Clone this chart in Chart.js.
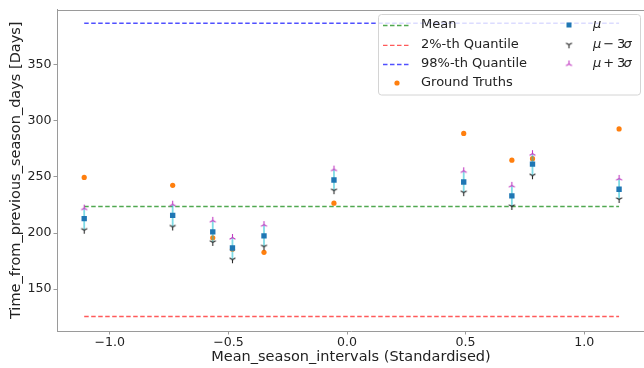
<!DOCTYPE html>
<html>
<head>
<meta charset="utf-8">
<script src="https://cdn.jsdelivr.net/npm/chart.js@4.4.1/dist/chart.umd.min.js"></script>
<style>
  html, body { margin: 0; padding: 0; overflow: hidden; background: #fff; width: 644px; height: 368px; }
  canvas { display: block; }
</style>
</head>
<body>
<canvas id="c" width="650" height="368"></canvas>
<script>
// Standardised mean season interval of each site (x) and the model outputs (days)
const xValues   = [-1.108, -0.735, -0.566, -0.483, -0.350, -0.055, 0.492, 0.695, 0.782, 1.147];
const muValues  = [212.8, 215.7, 201.0, 186.6, 197.4, 247.3, 245.5, 233.1, 261.4, 239.0];
const muMinus3s = [202.5, 205.4, 191.6, 176.2, 187.7, 237.8, 236.0, 223.7, 251.1, 229.9];
const muPlus3s  = [222.2, 225.7, 211.3, 196.0, 207.5, 257.0, 255.5, 242.5, 270.8, 248.7];
const groundTruths = [249.6, 242.5, 195.7, 185.5, 182.8, 226.6, 288.8, 265.0, 266.3, 292.8];

// Reference levels of the training targets
const meanLevel = 223.7;
const q02Level  = 125.5;
const q98Level  = 387.0;

const xTicks = [-1.0, -0.5, 0.0, 0.5, 1.0];
const yTicks = [150, 200, 250, 300, 350];

const FONT = 'DejaVu Sans';
const TEXT = '#222222';
const SPINE = '#9a9a9a';

// Three-armed markers: pointing down (Y) and pointing up
function triMarker(color, pointingUp) {
  const s = 9, c = s / 2, r = 3.4;
  const cv = document.createElement('canvas');
  cv.width = s; cv.height = s;
  const g = cv.getContext('2d');
  g.strokeStyle = color; g.lineWidth = 1.1;
  const d = pointingUp ? -1 : 1;
  g.beginPath();
  g.moveTo(c, c); g.lineTo(c, c + d * r);
  g.moveTo(c, c); g.lineTo(c - 0.866 * r, c - d * 0.5 * r);
  g.moveTo(c, c); g.lineTo(c + 0.866 * r, c - d * 0.5 * r);
  g.stroke();
  return cv;
}
const triDown = triMarker('#2a2a2a', false);
const triUp = triMarker('#c23cc2', true);

const pts = ys => xValues.map((x, i) => ({ x, y: ys[i] }));
const xLo = Math.min(...xValues), xHi = Math.max(...xValues);
const hline = v => [{ x: xLo, y: v }, { x: xHi, y: v }];

const errData = [];
xValues.forEach((x, i) => {
  errData.push({ x, y: muMinus3s[i] }, { x, y: muPlus3s[i] }, { x, y: null });
});

const meanColor = 'rgb(80,168,80)';
const q02Color = 'rgb(255,90,90)';
const q98Color = 'rgb(80,80,255)';
const dash = [4.5, 2.5];

const datasets = [
  { label: 'Mean', data: hline(meanLevel), showLine: true, borderColor: meanColor, borderWidth: 1.4, borderDash: dash, pointRadius: 0, order: 20 },
  { label: '2%-th Quantile', data: hline(q02Level), showLine: true, borderColor: q02Color, borderWidth: 1.4, borderDash: dash, pointRadius: 0, order: 20 },
  { label: '98%-th Quantile', data: hline(q98Level), showLine: true, borderColor: q98Color, borderWidth: 1.5, borderDash: dash, pointRadius: 0, order: 20 },
  { label: 'Ground Truths', data: pts(groundTruths), pointStyle: 'circle', pointRadius: 2.6, backgroundColor: '#ff7f0e', borderWidth: 0, order: 15 },
  { label: 'range', data: errData, showLine: true, spanGaps: false, borderColor: 'rgba(23,190,207,0.55)', borderWidth: 1.8, pointRadius: 0, order: 12 },
  { label: 'mu-3s', data: pts(muMinus3s), pointStyle: triDown, order: 6 },
  { label: 'mu+3s', data: pts(muPlus3s), pointStyle: triUp, order: 5 },
  { label: 'mu', data: pts(muValues), pointStyle: 'rect', pointRadius: 3.8, backgroundColor: '#1f77b4', borderWidth: 0, order: 4 }
];

// Top spine of the axes box
const framePlugin = {
  id: 'frame',
  afterDatasetsDraw(chart) {
    const { ctx, chartArea: a } = chart;
    ctx.save();
    ctx.strokeStyle = SPINE; ctx.lineWidth = 1;
    ctx.beginPath();
    ctx.moveTo(a.left, Math.round(a.top) + 0.5);
    ctx.lineTo(a.right, Math.round(a.top) + 0.5);
    ctx.stroke();
    ctx.restore();
  }
};

// Two-column legend in the upper right corner
const legendPlugin = {
  id: 'boxLegend',
  afterDraw(chart) {
    const { ctx } = chart;
    const bx = 378.5, by = 14.5, bw = 262, bh = 80.5, r = 3;
    ctx.save();
    ctx.beginPath();
    ctx.moveTo(bx + r, by);
    ctx.lineTo(bx + bw - r, by); ctx.arcTo(bx + bw, by, bx + bw, by + r, r);
    ctx.lineTo(bx + bw, by + bh - r); ctx.arcTo(bx + bw, by + bh, bx + bw - r, by + bh, r);
    ctx.lineTo(bx + r, by + bh); ctx.arcTo(bx, by + bh, bx, by + bh - r, r);
    ctx.lineTo(bx, by + r); ctx.arcTo(bx, by, bx + r, by, r);
    ctx.closePath();
    ctx.fillStyle = 'rgba(255,255,255,0.8)';
    ctx.fill();
    ctx.strokeStyle = '#d4d4d4'; ctx.lineWidth = 1;
    ctx.stroke();

    const rows = [25, 44.8, 64, 83];
    const lx0 = 383, lx1 = 409, tx = 421;
    ctx.font = '13px "' + FONT + '"';
    ctx.textBaseline = 'middle';
    ctx.textAlign = 'left';
    ctx.fillStyle = TEXT;
    const lineItems = [[meanColor, 'Mean'], [q02Color, '2%-th Quantile'], [q98Color, '98%-th Quantile']];
    lineItems.forEach(([col, txt], i) => {
      ctx.save();
      ctx.strokeStyle = col; ctx.lineWidth = 1.3; ctx.setLineDash(dash);
      ctx.beginPath(); ctx.moveTo(lx0, rows[i] + 0.5); ctx.lineTo(lx1, rows[i] + 0.5); ctx.stroke();
      ctx.restore();
      ctx.fillText(txt, tx, rows[i]);
    });
    ctx.fillStyle = '#ff7f0e';
    ctx.beginPath(); ctx.arc(397, rows[3], 2.6, 0, Math.PI * 2); ctx.fill();
    ctx.fillStyle = TEXT;
    ctx.fillText('Ground Truths', tx, rows[3]);

    // right column: μ, μ − 3σ, μ + 3σ
    const mx = 569, mt = 593;
    ctx.fillStyle = '#1f77b4';
    ctx.fillRect(mx - 2.5, rows[0] - 2.5, 5, 5);
    ctx.drawImage(triDown, mx - triDown.width / 2, rows[1] - triDown.height / 2);
    ctx.drawImage(triUp, mx - triUp.width / 2, rows[2] - triUp.height / 2);
    const ital = 'italic 13px "' + FONT + '"';
    const reg = '13px "' + FONT + '"';
    ctx.fillStyle = TEXT;
    ctx.font = ital; ctx.fillText('\u03bc', mt, rows[0]);
    [['\u2212', 1], ['+', 2]].forEach(([op, k]) => {
      ctx.font = ital; ctx.fillText('\u03bc', mt, rows[k]);
      ctx.font = reg; ctx.fillText(op, mt + 10.3, rows[k]);
      ctx.fillText('3', mt + 24, rows[k]);
      ctx.font = ital; ctx.fillText('\u03c3', mt + 30.5, rows[k]);
    });
    ctx.restore();
  }
};

new Chart(document.getElementById('c'), {
  type: 'scatter',
  data: { datasets },
  options: {
    responsive: false,
    animation: false,
    events: [],
    layout: { padding: { top: 7, right: 2, left: 0, bottom: 0 } },
    plugins: { legend: { display: false }, tooltip: { enabled: false } },
    scales: {
      x: {
        type: 'linear', position: 'bottom',
        min: -1.2227, max: 1.2563,
        afterBuildTicks: s => { s.ticks = xTicks.map(v => ({ value: v })); },
        afterFit: s => { s.height = 37; },
        ticks: {
          font: { family: FONT, size: 12.6 }, color: TEXT, padding: 1, maxRotation: 0,
          callback: v => (v < 0 ? '\u2212' : '') + Math.abs(v).toFixed(1)
        },
        grid: { drawOnChartArea: false, drawTicks: true, tickLength: 3.5, color: SPINE, tickColor: SPINE },
        border: { color: SPINE, width: 1 },
        title: { display: true, text: 'Mean_season_intervals (Standardised)', color: TEXT,
                 font: { family: FONT, size: 14.5 }, padding: { top: 0, bottom: 2 } }
      },
      y: {
        type: 'linear', position: 'left',
        min: 112.6, max: 399.3,
        afterBuildTicks: s => { s.ticks = yTicks.map(v => ({ value: v })); },
        afterFit: s => { s.width = 57; },
        ticks: {
          font: { family: FONT, size: 12.6 }, color: TEXT, padding: 2,
          callback: v => String(v)
        },
        grid: { drawOnChartArea: false, drawTicks: true, tickLength: 3.5, color: SPINE, tickColor: SPINE },
        border: { color: SPINE, width: 1 },
        title: { display: true, text: 'Time_from_previous_season_days [Days]', color: TEXT,
                 font: { family: FONT, size: 14.5 }, padding: { top: 8, bottom: 0 } }
      }
    }
  },
  plugins: [framePlugin, legendPlugin]
});
</script>
</body>
</html>
